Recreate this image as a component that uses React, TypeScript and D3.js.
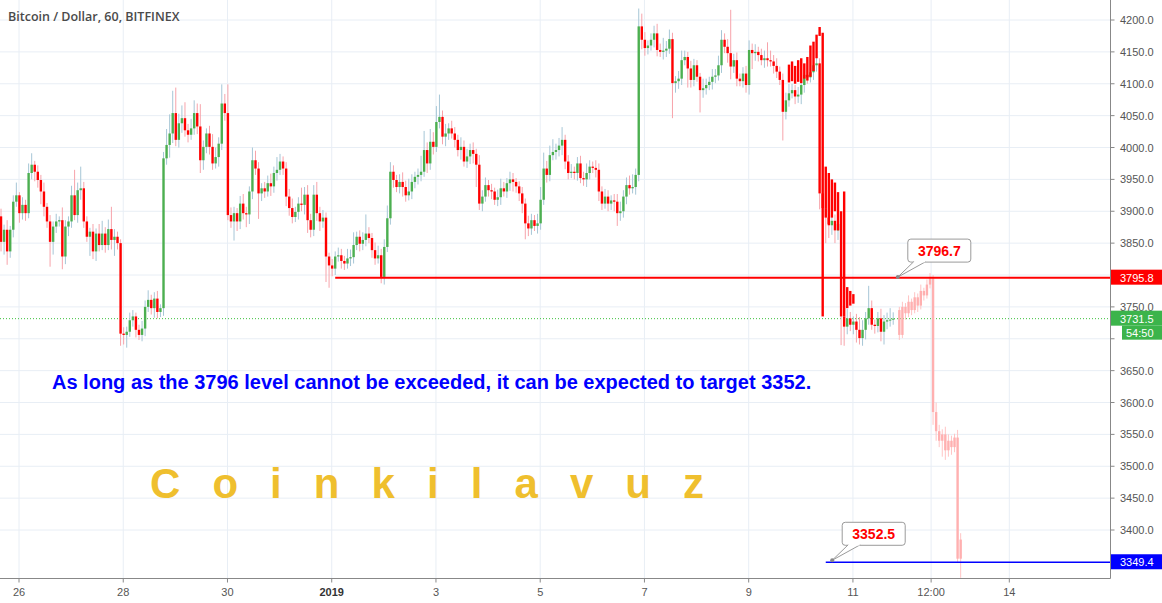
import React from 'react';
import * as d3 from 'd3';

const W = 1162;
const H = 603;
const plotRight = 1110.5;
const plotBottom = 578.5;

const titleText = 'Bitcoin / Dollar, 60, BITFINEX';
const noteText = 'As long as the 3796 level cannot be exceeded, it can be expected to target 3352.';
const brandText = 'C o i n k i l a v u z';

const priceTicks = [3400, 3450, 3500, 3550, 3600, 3650, 3700, 3750, 3800, 3850, 3900, 3950, 4000, 4050, 4100, 4150, 4200];
const priceTickLabels = ['3400.0', '3450.0', '3500.0', '3550.0', '3600.0', '3650.0', '', '3750.0', '', '3850.0', '3900.0', '3950.0', '4000.0', '4050.0', '4100.0', '4150.0', '4200.0'];
const timeTickLabels = ['26', '28', '30', '2019', '3', '5', '7', '9', '11', '12:00', '14'];
const timeTickDays = [0, 2, 4, 6, 8, 10, 12, 14, 16, 17.5, 19];

// candle timing (days since Dec 26)
const firstCandleDay = -0.345;
const candleStep = 1 / 17;

const firstOpen = 3892;
const closes = [
  3852, 3871, 3837, 3871, 3915, 3925, 3897, 3910, 3897, 3960, 3973, 3962, 3949, 3931, 3907, 3884, 3852,
  3876, 3884, 3886, 3829, 3876, 3884, 3925, 3894, 3933, 3936, 3884, 3860, 3868, 3837, 3865, 3847, 3865,
  3847, 3872, 3855, 3860, 3850, 3708, 3706, 3711, 3729, 3735, 3714, 3706, 3716, 3750, 3761, 3748, 3763,
  3742, 3748, 3983, 4004, 4022, 4054, 4012, 4038, 4046, 4027, 4020, 4030, 4054, 4033, 3980, 4001, 4022,
  4001, 3975, 3985, 4006, 4069, 4054, 3894, 3884, 3897,
  3884, 3912, 3897, 3895, 3931, 3980, 3967, 3928, 3936, 3931, 3944, 3939, 3960, 3965, 3978, 3967, 3923,
  3905, 3891, 3899, 3912, 3910, 3926, 3886, 3871, 3926, 3897, 3884, 3890, 3829, 3815, 3810, 3829, 3831,
  3822, 3818, 3826, 3828, 3847, 3860, 3849, 3855, 3865, 3858, 3839, 3826, 3831, 3797, 3844, 3889, 3962,
  3949, 3938, 3946, 3938, 3925, 3931, 3946, 3954, 3957, 3962, 3996, 3975, 4009, 4001, 4040, 4048, 4017,
  4022, 4030, 4022, 4012, 3996, 4001, 3978, 3986, 3996,
  3990, 3973, 3912, 3923, 3941, 3933, 3931, 3918, 3922, 3936, 3931, 3944, 3950, 3946, 3939, 3928, 3912,
  3881, 3873, 3886, 3877, 3881, 3918, 3967, 3957, 3988, 3993, 3996, 4003, 4012, 3978, 3960, 3962, 3960,
  3975, 3952, 3950, 3960, 3970, 3968, 3965, 3931, 3912, 3923, 3912, 3917, 3915, 3897, 3900, 3923, 3941,
  3936, 3938, 3957, 4190,
  4169, 4156, 4160, 4169, 4179, 4153, 4150, 4152, 4155, 4170, 4101, 4104, 4108, 4137, 4142, 4124, 4106,
  4129, 4111, 4090, 4093, 4098, 4103, 4111, 4113, 4129, 4169, 4158, 4148, 4127, 4137, 4108, 4104, 4116,
  4098, 4153, 4148, 4150, 4145, 4137, 4140, 4137, 4135, 4128, 4119, 4106, 4056, 4074, 4085, 4090, 4080,
  4083, 4098, 4114, 4110, 4118, 4129, 4132,
  3928, 3905, 3890, 3878, 3885, 3870, 3880, 3735, 3719, 3732, 3722, 3727, 3714, 3701, 3714, 3732, 3748,
  3722, 3720, 3732, 3711, 3727, 3729, 3730, 3731.5,
];
const wickUp = [
  12, 8, 15, 6, 10, 20, 5, 12, 8, 15, 18, 6, 10, 8, 14, 6, 10,
  8, 12, 6, 20, 10, 8, 15, 40, 12, 34, 10, 8, 6, 12, 8, 15, 20,
  10, 15, 35, 12, 8, 6, 10, 8, 12, 10, 6, 8, 12, 10, 15, 8, 10,
  12, 6, 10, 25, 30, 35, 40, 15, 20, 25, 10, 15, 20, 15, 35, 10, 8,
  12, 20, 15, 10, 30, 15, 45, 12, 10, 8, 12, 15, 10, 8, 20, 15, 10,
  8, 10, 12, 15, 10, 20, 12, 8, 10, 12, 15, 8, 10, 25, 12, 15, 10,
  15, 20, 10, 12, 8, 6, 10, 8, 12, 10, 8, 15, 12, 20, 8, 10, 12,
  30, 10, 8, 12, 15, 10, 12, 20, 15, 10, 8, 12, 15, 10, 20, 12, 8,
  10, 25, 30, 12, 20, 15, 25, 35, 10, 15, 8, 12, 10, 8, 15, 10, 12,
  10, 12, 8, 15, 10, 12, 8, 10, 6, 12, 15, 10, 8, 12, 10, 6, 8,
  10, 8, 12, 10, 8, 15, 20, 25, 12, 15, 20, 10, 12, 20, 8, 10, 12,
  8, 10, 12, 10, 15, 10, 8, 12, 10, 8, 12, 10, 8, 10, 12, 15, 10,
  12, 15, 20, 10, 28, 20, 12, 8, 10, 12, 15, 10, 20, 12, 15, 10, 8,
  12, 15, 10, 8, 12, 10, 8, 6, 15, 10, 8, 12, 10, 15, 15, 10, 12,
  68, 10, 12, 8, 10, 12, 15, 10, 12, 8, 10, 12, 25, 15, 10, 12, 8,
  10, 12, 15, 10, 8, 12, 10, 15, 10, 12, 8, 10, 8, 15, 20, 12, 10,
  10, 8, 10, 12, 15, 10, 8, 12, 20, 15, 10, 35, 12, 8, 10, 15, 10, 12, 18, 10,
];
const wickDn = [
  15, 20, 21, 10, 12, 8, 15, 10, 12, 8, 10, 15, 12, 20, 15, 10, 39,
  20, 10, 8, 20, 12, 15, 10, 8, 12, 15, 10, 8, 30, 12, 15, 10, 8,
  12, 8, 15, 25, 10, 19, 15, 20, 8, 10, 12, 8, 10, 12, 8, 10, 15,
  10, 8, 12, 10, 20, 15, 10, 12, 15, 10, 12, 8, 10, 12, 20, 15, 10,
  12, 10, 8, 15, 10, 12, 8, 10, 30, 15, 12, 10, 20, 15, 12, 10, 40,
  12, 10, 8, 15, 10, 12, 8, 10, 15, 12, 10, 8, 12, 10, 15, 20, 12,
  10, 12, 15, 10, 40, 35, 12, 10, 8, 12, 10, 8, 12, 10, 8, 12, 10,
  10, 8, 12, 10, 8, 10, 12, 8, 10, 12, 8, 10, 15, 10, 8, 12, 10,
  12, 10, 8, 15, 10, 12, 8, 10, 12, 15, 10, 8, 12, 10, 15, 8, 10,
  12, 15, 35, 10, 12, 8, 10, 12, 8, 10, 12, 8, 10, 12, 15, 10, 12,
  15, 25, 12, 10, 8, 12, 10, 8, 12, 10, 8, 12, 10, 15, 12, 10, 8,
  10, 12, 8, 10, 12, 10, 8, 12, 15, 10, 8, 12, 10, 15, 20, 12, 10,
  12, 10, 8, 12, 10, 15, 12, 10, 8, 12, 10, 8, 12, 10, 8, 55, 15,
  12, 10, 8, 30, 12, 10, 8, 35, 12, 10, 8, 12, 10, 8, 12, 10, 15,
  20, 10, 12, 8, 10, 12, 15, 25, 12, 10, 8, 12, 10, 8, 12, 10, 8,
  45, 12, 10, 8, 12, 10, 15, 12, 10, 8, 12, 10, 25, 30, 40, 20, 15,
  20, 15, 45, 30, 12, 10, 15, 20, 10, 12, 15, 10, 8, 12, 10, 15, 20, 12, 10, 8,
];

// solid red bar-pattern copy drawn over Jan 10
const overlayStartIndex = 257;
const overlayOpen = [4130, 4135, 4128, 4137, 4140, 4132, 4142, 4160, 4166, 4177, 4189, 4180, 3970, 3960, 3950, 3945, 3930, 3900, 3931, 3781, 3775, 3770];
const overlayClose = [4102, 4104, 4100, 4103, 4101, 4108, 4105, 4111, 4120, 4140, 4175, 3735, 3905, 3880, 3890, 3900, 3870, 3880, 3735, 3748, 3752, 3755];

// projected (ghost) bars
const projStartIndex = 293;
const projOpen0 = 3745;
const projCloses = [3706, 3750, 3740, 3758, 3745, 3765, 3752, 3775, 3768, 3785, 3795, 3585, 3555, 3540, 3550, 3525, 3540, 3530, 3545, 3355, 3385];
const projWickUp = [5, 8, 6, 10, 5, 8, 6, 10, 5, 8, 8, 5, 15, 10, 8, 12, 10, 8, 6, 12, 10];
const projWickDn = [8, 5, 10, 6, 8, 5, 10, 6, 8, 5, 6, 20, 15, 10, 25, 15, 10, 12, 8, 5, 30];

// horizontal levels
const resistanceLevel = 3795.8;
const resistanceStartIndex = 109;
const targetLevel = 3349.4;
const targetStartIndex = 269;
const lastPrice = 3731.5;
const countdownText = '54:50';

// callouts
const calloutTexts = ['3796.7', '3352.5'];
const calloutIndex = [292.5, 271.1];
const calloutPrice = [3796.7, 3352.5];

const GREEN = '#4caf50';
const RED = '#ff0000';
const FONT = '"Liberation Sans", Arial, sans-serif';

export default function App() {
  const x = d3.scaleLinear().domain([0, 19]).range([19, 1009.3]);
  const y = d3.scaleLinear().domain([3400, 4200]).range([530, 20]);
  const xi = (i: number) => x(firstCandleDay + i * candleStep);
  const bw = 2.4;

  const candles = closes.map((c, i) => {
    const o = i === 0 ? firstOpen : closes[i - 1];
    const hi = Math.max(o, c) + wickUp[i];
    const lo = Math.min(o, c) - wickDn[i];
    return { i, o, c, hi, lo, up: c >= o };
  });

  const proj = projCloses.map((c, k) => {
    const o = k === 0 ? projOpen0 : projCloses[k - 1];
    return { i: projStartIndex + k, o, c, hi: Math.max(o, c) + projWickUp[k], lo: Math.min(o, c) - projWickDn[k] };
  });

  const overlay = overlayOpen.map((o, k) => ({ i: overlayStartIndex + k, o, c: overlayClose[k] }));

  const body = (o: number, c: number) => {
    const top = y(Math.max(o, c));
    const h = Math.max(1, y(Math.min(o, c)) - top);
    return { top, h };
  };

  const rightLabel = (val: number, text: string, fill: string, key: string, x0 = plotRight + 0.5) => {
    const cy = y(val);
    return (
      <g key={key}>
        <rect x={x0} y={cy - 8} width={W - x0} height={15} fill={fill} />
        <text x={1120} y={cy + 4} fontSize={11} fill="#fff" fontFamily={FONT}>{text}</text>
      </g>
    );
  };

  return (
    <svg width={W} height={H} style={{ position: 'absolute', left: 0, top: 0, background: '#fff' }} xmlns="http://www.w3.org/2000/svg">
      <rect x={0} y={0} width={W} height={H} fill="#fff" />
      {/* grid */}
      {priceTicks.map((p) => (
        <line key={'gh' + p} x1={0} x2={plotRight} y1={y(p)} y2={y(p)} stroke="#e8eef5" strokeWidth={1} />
      ))}
      {timeTickDays.map((d, k) => (
        <line key={'gv' + k} x1={x(d)} x2={x(d)} y1={0} y2={plotBottom} stroke="#e8eef5" strokeWidth={1} />
      ))}

      {/* title */}
      <text x={8} y={21} fontSize={12.5} fontWeight={600} fill="#4a4a4a" fontFamily={'"Open Sans", "Noto Sans", sans-serif'}>{titleText}</text>

      {/* last price dotted line */}
      <line x1={0} x2={plotRight} y1={y(lastPrice)} y2={y(lastPrice)} stroke="#3cc13c" strokeWidth={1} strokeDasharray="1,2" />

      {/* candles */}
      {candles.map((d) => {
        const cx = xi(d.i);
        const b = body(d.o, d.c);
        return (
          <g key={'c' + d.i}>
            <line x1={cx} x2={cx} y1={y(d.hi)} y2={y(d.lo)} stroke={d.up ? '#a6c6d6' : '#f7a3aa'} strokeWidth={1} />
            <rect x={cx - bw / 2} y={b.top} width={bw} height={b.h} fill={d.up ? GREEN : RED} />
          </g>
        );
      })}

      {/* overlay red bars */}
      {overlay.map((d) => {
        const cx = xi(d.i);
        const b = body(d.o, d.c);
        return <rect key={'o' + d.i} x={cx - bw / 2} y={b.top} width={bw} height={b.h} fill={RED} />;
      })}

      {/* projected bars */}
      {proj.map((d) => {
        const cx = xi(d.i);
        const b = body(d.o, d.c);
        return (
          <g key={'p' + d.i}>
            <line x1={cx} x2={cx} y1={y(d.hi)} y2={y(d.lo)} stroke="#ffc4c4" strokeWidth={1} />
            <rect x={cx - bw / 2} y={b.top} width={bw} height={b.h} fill="#ffb0b0" />
          </g>
        );
      })}

      {/* levels */}
      <line x1={xi(resistanceStartIndex)} x2={plotRight} y1={y(resistanceLevel)} y2={y(resistanceLevel)} stroke={RED} strokeWidth={2} />
      <line x1={xi(targetStartIndex)} x2={plotRight} y1={y(targetLevel)} y2={y(targetLevel)} stroke="#0000ff" strokeWidth={1.5} />

      {/* callouts */}
      {calloutTexts.map((t, k) => {
        const ax = xi(calloutIndex[k]);
        const ay = y(calloutPrice[k]);
        const bx = ax + 10;
        const by = ay - 38;
        const bwid = 63;
        const bh = 23;
        return (
          <g key={'co' + k}>
            <rect x={bx} y={by} width={bwid} height={bh} rx={3} fill="#fff" stroke="#9a9a9a" strokeWidth={1} />
            <path d={`M${bx + 6},${by + bh - 0.5} L${ax},${ay} L${bx + 18},${by + bh - 0.5}`} fill="#fff" stroke="#9a9a9a" strokeWidth={1} />
            <line x1={bx + 6.5} x2={bx + 17.5} y1={by + bh - 0.5} y2={by + bh - 0.5} stroke="#fff" strokeWidth={1.5} />
            <circle cx={ax} cy={ay} r={2} fill="#888" />
            <text x={bx + bwid / 2} y={by + 16.5} fontSize={14} fontWeight={700} fill={RED} textAnchor="middle" fontFamily={FONT}>{t}</text>
          </g>
        );
      })}

      {/* annotation texts */}
      <text x={52} y={389} fontSize={20} fontWeight={700} fill="#0000ff" fontFamily={FONT}>{noteText}</text>
      <text x={150} y={498} fontSize={42} fontWeight={700} fill="#efbf2e" letterSpacing={10.2} fontFamily={FONT}>{brandText}</text>

      {/* axes */}
      <line x1={plotRight} x2={plotRight} y1={0} y2={plotBottom} stroke="#888" strokeWidth={1} />
      <line x1={0} x2={plotRight} y1={plotBottom} y2={plotBottom} stroke="#888" strokeWidth={1} />
      {priceTicks.map((p, k) => (
        <g key={'yt' + p}>
          <line x1={plotRight} x2={plotRight + 4} y1={y(p)} y2={y(p)} stroke="#888" />
          {priceTickLabels[k] && (
            <text x={1120} y={y(p) + 4} fontSize={11} fill="#555" fontFamily={FONT}>{priceTickLabels[k]}</text>
          )}
        </g>
      ))}
      {timeTickDays.map((d, k) => (
        <g key={'xt' + k}>
          <line x1={x(d)} x2={x(d)} y1={plotBottom} y2={plotBottom + 4} stroke="#888" />
          <text x={x(d)} y={596} fontSize={11} fill={timeTickLabels[k] === '2019' ? '#333' : '#555'} fontWeight={timeTickLabels[k] === '2019' ? 700 : 400} textAnchor="middle" fontFamily={FONT}>{timeTickLabels[k]}</text>
        </g>
      ))}

      {/* right price labels */}
      {rightLabel(resistanceLevel, '3795.8', RED, 'rl1')}
      {rightLabel(lastPrice, '3731.5', '#3cb44b', 'rl2')}
      <rect x={1122} y={y(lastPrice) + 7} width={W - 1122} height={14} fill="#3cb44b" />
      <text x={1126} y={y(lastPrice) + 18} fontSize={11} fill="#fff" fontFamily={FONT}>{countdownText}</text>
      {rightLabel(targetLevel, '3349.4', '#0000ff', 'rl3')}
    </svg>
  );
}
